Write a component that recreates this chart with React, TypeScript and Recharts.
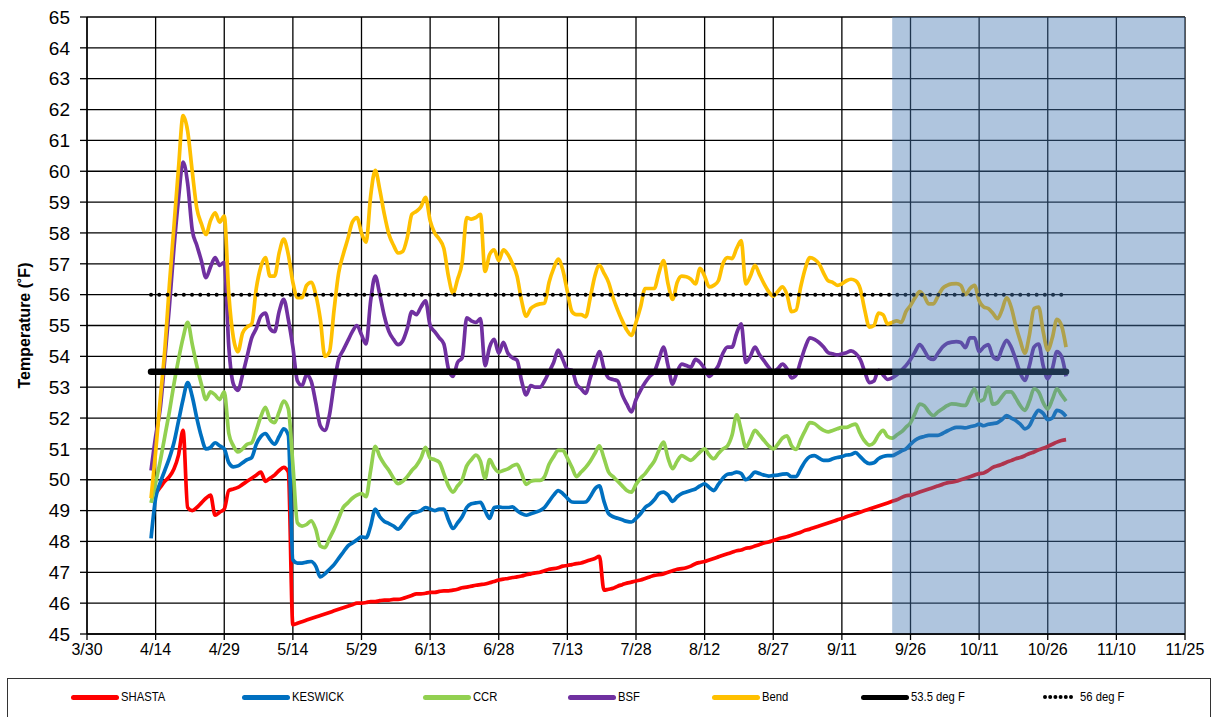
import { LineChart, Line, XAxis, YAxis, CartesianGrid, ReferenceArea } from "recharts";

// x is a day count from 3/30; the first reading is on 4/13 (day 14)
const FIRST_DAY = 14;
const X_TICK_LABELS = ["3/30", "4/14", "4/29", "5/14", "5/29", "6/13", "6/28", "7/13", "7/28", "8/12", "8/27", "9/11", "9/26", "10/11", "10/26", "11/10", "11/25"];
const X_TICKS = X_TICK_LABELS.map((_, i) => i * 15);
const Y_TICKS = [45, 46, 47, 48, 49, 50, 51, 52, 53, 54, 55, 56, 57, 58, 59, 60, 61, 62, 63, 64, 65];

const SHADE_FROM = 176;
const SHADE_TO = 240;
const THRESHOLD_DAYS = [14, 214];
const THRESHOLD_LOW = 53.5;
const THRESHOLD_HIGH = 56;

// daily temperatures (°F), 4/13 .. 10/31
const SHASTA = [
  null, 49.55, 49.75, 49.95, 50.1, 50.35, 50.8, 51.6, 49.1, 49.0, 49.1, 49.25, 49.4, 49.5, 48.85, 48.95,
  49.05, 49.65, 49.7, 49.75, 49.85, 49.95, 50.05, 50.15, 50.25, 49.95, 50.05, 50.15, 50.3, 50.4, 50.25,
  45.3, 45.35, 45.4, 45.45, 45.5, 45.55, 45.6, 45.65, 45.7, 45.75, 45.8, 45.85, 45.9, 45.95, 46.0,
  46.0, 46.02, 46.05, 46.05, 46.08, 46.1, 46.1, 46.12, 46.12, 46.15, 46.2, 46.25, 46.3, 46.3, 46.32,
  46.35, 46.35, 46.38, 46.4, 46.4, 46.42, 46.45, 46.5, 46.52, 46.55, 46.58, 46.6, 46.62, 46.66, 46.7,
  46.75, 46.78, 46.8, 46.83, 46.85, 46.88, 46.92, 46.95, 46.98, 47.0, 47.05, 47.1, 47.12, 47.15, 47.2,
  47.22, 47.25, 47.28, 47.3, 47.35, 47.4, 47.45, 47.52, 46.42, 46.45, 46.48, 46.55, 46.6, 46.65, 46.68,
  46.72, 46.75, 46.8, 46.85, 46.9, 46.92, 46.95, 47.0, 47.05, 47.1, 47.12, 47.15, 47.2, 47.28, 47.32,
  47.35, 47.4, 47.45, 47.5, 47.55, 47.6, 47.65, 47.7, 47.72, 47.78, 47.8, 47.85, 47.9, 47.95, 47.98,
  48.03, 48.08, 48.12, 48.15, 48.2, 48.25, 48.3, 48.36, 48.4, 48.45, 48.5, 48.55, 48.6, 48.65, 48.7,
  48.74, 48.8, 48.85, 48.9, 48.95, 49.0, 49.05, 49.1, 49.15, 49.2, 49.25, 49.3, 49.35, 49.42, 49.48,
  49.5, 49.55, 49.6, 49.65, 49.7, 49.75, 49.8, 49.85, 49.9, 49.92, 49.95, 50.0, 50.05, 50.1, 50.15,
  50.2, 50.22, 50.3, 50.4, 50.45, 50.5, 50.57, 50.62, 50.68, 50.72, 50.78, 50.85, 50.9, 50.97, 51.02,
  51.08, 51.15, 51.22, 51.27, 51.3,
];

const KESWICK = [
  48.1, 49.4, 49.9, 50.3, 50.7, 51.2, 51.9, 52.6, 53.15, 52.7, 52.0, 51.4, 51.0, 51.05, 51.2, 51.1,
  51.0, 50.55, 50.42, 50.45, 50.55, 50.65, 50.72, 51.15, 51.4, 51.5, 51.3, 51.15, 51.4, 51.65, 51.45,
  47.4, 47.3, 47.3, 47.33, 47.35, 47.2, 46.85, 46.95, 47.1, 47.25, 47.45, 47.65, 47.85, 47.95, 48.05,
  48.15, 48.12, 48.5, 49.05, 48.8, 48.65, 48.58, 48.5, 48.4, 48.55, 48.75, 48.9, 48.95, 49.0, 49.1,
  49.05, 49.0, 49.05, 49.05, 48.7, 48.42, 48.6, 48.8, 49.1, 49.22, 49.25, 49.27, 49.0, 48.75, 49.1,
  49.12, 49.1, 49.1, 49.12, 49.0, 48.9, 48.85, 48.9, 48.95, 49.0, 49.1, 49.3, 49.5, 49.65, 49.55,
  49.4, 49.28, 49.27, 49.27, 49.28, 49.45, 49.7, 49.8, 49.3, 48.9, 48.8, 48.75, 48.7, 48.65, 48.63,
  48.75, 48.9, 49.1, 49.2, 49.35, 49.55, 49.6, 49.5, 49.3, 49.45, 49.55, 49.6, 49.65, 49.7, 49.8,
  49.87, 49.75, 49.65, 49.85, 50.05, 50.18, 50.2, 50.25, 50.2, 50.0, 50.1, 50.25, 50.2, 50.15, 50.12,
  50.14, 50.15, 50.18, 50.19, 50.1, 50.1, 50.35, 50.6, 50.75, 50.78, 50.7, 50.63, 50.63, 50.68, 50.72,
  50.75, 50.8, 50.82, 50.88, 50.75, 50.6, 50.52, 50.55, 50.68, 50.75, 50.78, 50.78, 50.85, 50.93, 51.0,
  51.15, 51.28, 51.36, 51.4, 51.44, 51.44, 51.44, 51.5, 51.58, 51.65, 51.7, 51.7, 51.68, 51.72, 51.75,
  51.8, 51.75, 51.8, 51.82, 51.85, 51.95, 52.08, 52.0, 51.92, 51.8, 51.65, 51.75, 52.05, 52.25, 52.15,
  51.95, 52.0, 52.25, 52.2, 52.05,
];

const CCR = [
  49.25, 49.9, 50.6, 51.4, 52.2, 53.1, 53.9, 54.6, 55.1, 54.4, 53.7, 53.1, 52.6, 52.85, 52.75, 52.6,
  52.85, 51.5, 51.1, 50.9, 51.0, 51.15, 51.2, 51.6, 52.05, 52.35, 51.95, 51.85, 52.2, 52.55, 52.3,
  50.5, 48.6, 48.5, 48.55, 48.67, 48.4, 47.85, 47.8, 48.1, 48.4, 48.75, 49.1, 49.25, 49.4, 49.5,
  49.55, 49.45, 50.3, 51.08, 50.75, 50.5, 50.3, 50.05, 49.87, 49.95, 50.1, 50.3, 50.46, 50.7, 51.05,
  50.7, 50.65, 50.57, 50.2, 49.8, 49.6, 49.8, 50.0, 50.45, 50.65, 50.8, 50.6, 50.05, 50.65, 50.4,
  50.25, 50.3, 50.35, 50.45, 50.5, 50.2, 49.85, 49.95, 49.98, 49.98, 50.1, 50.5, 50.75, 50.95, 50.95,
  50.7, 50.4, 50.1, 50.25, 50.4, 50.6, 50.85, 51.1, 50.7, 50.25, 50.1, 49.95, 49.8, 49.65, 49.6,
  49.85, 50.05, 50.2, 50.4, 50.6, 50.95, 51.22, 50.7, 50.36, 50.6, 50.78, 50.7, 50.63, 50.75, 50.9,
  51.0, 50.8, 50.68, 50.85, 51.0, 51.1, 51.45, 52.1, 51.6, 51.05, 51.3, 51.6, 51.45, 51.27, 51.1,
  51.0, 51.15, 51.35, 51.42, 51.1, 50.98, 51.3, 51.6, 51.85, 51.82, 51.7, 51.6, 51.55, 51.6, 51.65,
  51.7, 51.7, 51.76, 51.8, 51.5, 51.25, 51.12, 51.2, 51.45, 51.6, 51.4, 51.35, 51.45, 51.55, 51.7,
  51.85, 52.15, 52.45, 52.4, 52.2, 52.08, 52.2, 52.3, 52.4, 52.46, 52.45, 52.42, 52.41, 52.7, 52.95,
  52.55, 52.6, 53.0, 52.45, 52.5, 52.7, 52.85, 52.85, 52.65, 52.4, 52.25, 52.55, 52.95, 52.85, 52.5,
  52.3, 52.6, 52.95, 52.75, 52.55,
];

const BSF = [
  50.3, 51.4, 52.3, 53.9, 55.6, 57.5, 59.1, 60.3, 59.6, 58.1, 57.6, 57.1, 56.55, 56.9, 57.2, 56.95,
  57.05, 54.3, 53.1, 52.9, 53.4, 54.0, 54.6, 54.9, 55.3, 55.4, 54.9, 54.8, 55.45, 55.85, 55.2,
  54.3, 53.2, 53.05, 53.4, 53.2, 52.5, 51.75, 51.6, 52.1, 53.1, 53.9, 54.2, 54.5, 54.8, 55.0,
  54.7, 54.4, 55.8, 56.6, 56.0, 55.3, 54.8, 54.55, 54.38, 54.5, 54.9, 55.45, 55.35, 55.6, 55.8,
  55.0, 54.8, 54.6, 54.4, 53.6, 53.35, 53.8, 53.95, 55.25, 55.15, 55.1, 55.22, 53.7, 54.3, 54.55,
  54.1, 54.45, 54.1, 53.95, 53.87, 53.2, 52.75, 53.05, 53.0, 53.0, 53.2, 53.5, 53.8, 54.2, 53.9,
  53.58, 53.55, 53.1, 52.95, 52.8, 53.3, 53.75, 54.15, 53.6, 53.3, 53.25, 53.2, 52.75, 52.45, 52.2,
  52.6, 52.9, 53.15, 53.35, 53.5, 53.9, 54.3, 53.7, 53.1, 53.5, 53.75, 53.7, 53.65, 53.9, 53.8,
  53.6, 53.35, 53.5, 53.7, 54.1, 54.3, 54.3, 54.75, 55.05, 53.8, 54.0, 54.3, 54.05, 53.85, 53.65,
  53.5, 53.6, 53.75, 53.6, 53.3, 53.4, 53.85, 54.3, 54.6, 54.55, 54.45, 54.3, 54.12, 54.08, 54.05,
  54.08, 54.12, 54.18, 54.1, 53.9, 53.5, 53.15, 53.2, 53.55, 53.4, 53.25, 53.3, 53.4, 53.55, 53.7,
  53.9, 54.15, 54.38, 54.2, 53.95, 53.9, 54.1, 54.3, 54.42, 54.46, 54.48, 54.45, 54.28, 54.6, 54.6,
  54.15, 54.3, 54.38, 54.0, 53.9, 54.25, 54.52, 54.3, 53.9, 53.45, 53.22, 53.7, 54.3, 54.4, 53.7,
  53.27, 53.6, 54.15, 54.0, 53.35,
];

const BEND = [
  49.4, 50.9, 52.6, 54.2, 56.3, 58.2, 60.1, 61.8, 61.3, 60.0, 58.8, 58.3, 57.95, 58.4, 58.65, 58.35,
  58.55, 56.0, 54.6, 54.15, 54.75, 54.95, 55.05, 56.2, 56.9, 57.2, 56.6, 56.6, 57.35, 57.8, 57.3,
  56.4, 55.9, 55.9, 56.3, 56.4, 56.0, 55.2, 54.0, 54.15, 55.5, 56.7, 57.3, 57.8, 58.35, 58.5,
  58.0, 57.7, 59.2, 60.03, 59.4, 58.6, 57.95, 57.6, 57.35, 57.4, 57.85, 58.6, 58.7, 58.85, 59.15,
  58.4, 58.0, 57.8, 57.5, 56.6, 56.05, 56.5, 57.05, 58.5, 58.45, 58.5, 58.6, 56.75, 57.3, 57.45,
  57.1, 57.45, 57.3, 57.0, 56.6, 55.8, 55.3, 55.55, 55.65, 55.7, 55.72, 56.4, 56.85, 57.15, 56.8,
  56.1, 55.45, 55.35, 55.35, 55.28, 55.9, 56.6, 56.95, 56.7, 56.4, 55.9, 55.5, 55.15, 54.85, 54.68,
  55.1, 55.6, 56.2, 56.2, 56.2, 56.7, 57.1, 56.35, 55.85, 56.4, 56.6, 56.58, 56.5, 56.35, 56.85,
  56.6, 56.25, 56.3, 56.45, 57.0, 57.2, 57.17, 57.5, 57.75, 56.35, 56.6, 56.95, 56.65, 56.35, 56.1,
  55.95, 56.1, 56.25, 56.0, 55.45, 55.5, 56.25, 56.85, 57.2, 57.15, 57.0, 56.7, 56.45, 56.4, 56.3,
  56.35, 56.45, 56.5, 56.45, 56.2, 55.5, 54.95, 55.0, 55.4, 55.35, 55.05, 55.1, 55.15, 55.1, 55.45,
  55.65, 55.9, 56.1, 55.95, 55.7, 55.7, 55.95, 56.2, 56.3, 56.35, 56.36, 56.3, 56.0, 56.2, 56.3,
  55.8, 55.6, 55.55, 55.4, 55.22, 55.5, 55.9, 55.6, 55.0, 54.5, 54.1, 54.7, 55.55, 55.6, 54.8,
  54.2, 54.6, 55.2, 55.0, 54.3,
];

const COLORS = {
  shasta: "#FF0000",
  keswick: "#0070C0",
  ccr: "#92D050",
  bsf: "#7030A0",
  bend: "#FFC000",
};

const FONT = '"Liberation Sans", Arial, sans-serif';

const rows = SHASTA.map((_, i) => ({
  day: FIRST_DAY + i,
  shasta: SHASTA[i],
  keswick: KESWICK[i],
  ccr: CCR[i],
  bsf: BSF[i],
  bend: BEND[i],
}));

const thresholdRows = THRESHOLD_DAYS.map((day) => ({ day, low: THRESHOLD_LOW, high: THRESHOLD_HIGH }));

const LEGEND = [
  { label: "SHASTA", color: COLORS.shasta, left: 70 },
  { label: "KESWICK", color: COLORS.keswick, left: 241 },
  { label: "CCR", color: COLORS.ccr, left: 422 },
  { label: "BSF", color: COLORS.bsf, left: 567 },
  { label: "Bend", color: COLORS.bend, left: 711 },
  { label: "53.5 deg F", color: "#000", left: 860 },
];

function LegendBox() {
  return (
    <div
      style={{
        position: "absolute",
        left: 7,
        top: 678,
        width: 1204,
        height: 44,
        border: "1.5px solid #333",
        boxSizing: "border-box",
        fontFamily: FONT,
        fontSize: 12.5,
        color: "#000",
      }}
    >
      {LEGEND.map((item) => (
        <div key={item.label} style={{ position: "absolute", left: item.left - 7, top: 11, display: "flex", alignItems: "center" }}>
          <span style={{ display: "inline-block", width: 48, height: 5, borderRadius: 3, background: item.color }} />
          <span style={{ marginLeft: 2, transform: "scaleX(0.9)", transformOrigin: "left" }}>{item.label}</span>
        </div>
      ))}
      <div style={{ position: "absolute", left: 1041 - 7, top: 11, display: "flex", alignItems: "center" }}>
        <svg width={32} height={6}>
          <line x1={3} y1={3} x2={30} y2={3} stroke="#000" strokeWidth={4} strokeDasharray="0 5.2" strokeLinecap="round" />
        </svg>
        <span style={{ marginLeft: 6, transform: "scaleX(0.9)", transformOrigin: "left" }}>56 deg F</span>
      </div>
    </div>
  );
}

export default function App() {
  return (
    <div style={{ position: "absolute", left: 0, top: 0, width: 1218, height: 717, background: "#fff", fontFamily: FONT }}>
      <LineChart width={1218} height={672} data={rows} margin={{ top: 17, right: 33, bottom: 0, left: 0 }}>
        <CartesianGrid stroke="#000" strokeWidth={1.3} />
        <XAxis
          dataKey="day"
          type="number"
          domain={[0, 240]}
          ticks={X_TICKS}
          interval={0}
          tickFormatter={(v) => X_TICK_LABELS[Math.round(v / 15)]}
          height={38}
          tickSize={6}
          tickMargin={4}
          axisLine={{ stroke: "#000", strokeWidth: 1.3 }}
          tickLine={{ stroke: "#000", strokeWidth: 1.3 }}
          tick={{ fill: "#000", fontSize: 16, fontFamily: FONT }}
        />
        <YAxis
          type="number"
          domain={[45, 65]}
          ticks={Y_TICKS}
          interval={0}
          width={87}
          tickSize={7}
          tickMargin={10}
          axisLine={{ stroke: "#000", strokeWidth: 1.3 }}
          tickLine={{ stroke: "#000", strokeWidth: 1.3 }}
          tick={{ fill: "#000", fontSize: 19, fontFamily: FONT }}
          label={{
            value: "Temperature (˚F)",
            angle: -90,
            position: "insideLeft",
            offset: 24,
            style: { textAnchor: "middle", fontWeight: "bold", fontSize: 16, fill: "#000", fontFamily: FONT },
          }}
        />
        <Line type="monotone" dataKey="shasta" stroke={COLORS.shasta} strokeWidth={3.7} dot={false} isAnimationActive={false} />
        <Line type="monotone" dataKey="keswick" stroke={COLORS.keswick} strokeWidth={3.7} dot={false} isAnimationActive={false} />
        <Line type="monotone" dataKey="ccr" stroke={COLORS.ccr} strokeWidth={3.7} dot={false} isAnimationActive={false} />
        <Line type="monotone" dataKey="bsf" stroke={COLORS.bsf} strokeWidth={3.7} dot={false} isAnimationActive={false} />
        <Line type="monotone" dataKey="bend" stroke={COLORS.bend} strokeWidth={3.7} dot={false} isAnimationActive={false} />
        <Line data={thresholdRows} dataKey="low" stroke="#000" strokeWidth={6.5} strokeLinecap="round" dot={false} isAnimationActive={false} />
        <Line
          data={thresholdRows}
          dataKey="high"
          stroke="#000"
          strokeWidth={4}
          strokeDasharray="0 8.2"
          strokeLinecap="round"
          dot={false}
          isAnimationActive={false}
        />
        <ReferenceArea
          x1={SHADE_FROM}
          x2={SHADE_TO}
          y1={45}
          y2={65}
          fill="#4678B2"
          fillOpacity={0.43}
          stroke="none"
          ifOverflow="hidden"
          zIndex={450}
        />
      </LineChart>
      <LegendBox />
    </div>
  );
}
